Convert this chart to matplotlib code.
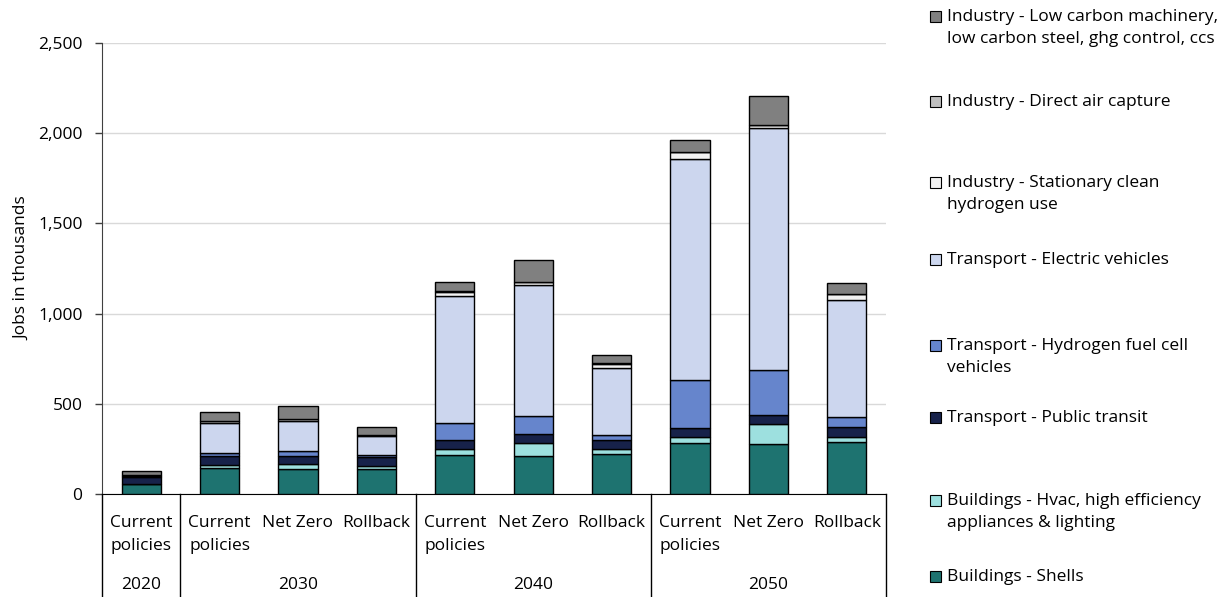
import numpy as np
import matplotlib.pyplot as plt
from matplotlib.patches import Rectangle
from matplotlib.transforms import blended_transform_factory

plt.rcParams['font.family'] = ['Open Sans', 'DejaVu Sans']
FS = 12.5

# Escenarios (eje x) y grupos de años
scenarios = ['Current\npolicies', 'Current\npolicies', 'Net Zero', 'Rollback',
             'Current\npolicies', 'Net Zero', 'Rollback',
             'Current\npolicies', 'Net Zero', 'Rollback']
years = ['2020', '2030', '2040', '2050']
year_span = [(0, 0), (1, 3), (4, 6), (7, 9)]

# Series (miles de empleos), de abajo hacia arriba
shells = [55, 142, 139, 139, 216, 212, 220, 281, 279, 286]
hvac = [3, 19, 25, 18, 32, 71, 28, 37, 107, 32]
transit = [38, 50, 46, 46, 50, 48, 51, 50, 50, 55]
h2_fcv = [2, 18, 27, 15, 96, 101, 28, 262, 253, 52]
ev = [6, 163, 168, 105, 703, 725, 370, 1229, 1338, 650]
stat_h2 = [2, 11, 11, 6, 24, 16, 25, 35, 17, 32]
dac = [0, 0, 0, 0, 2, 2, 2, 2, 2, 2]
ind_lcm = [20, 52, 71, 41, 52, 124, 48, 64, 158, 61]

series = [shells, hvac, transit, h2_fcv, ev, stat_h2, dac, ind_lcm]
names = ['Buildings - Shells',
         'Buildings - Hvac, high efficiency\nappliances & lighting',
         'Transport - Public transit',
         'Transport - Hydrogen fuel cell\nvehicles',
         'Transport - Electric vehicles',
         'Industry - Stationary clean\nhydrogen use',
         'Industry - Direct air capture',
         'Industry - Low carbon machinery,\nlow carbon steel, ghg control, ccs']
colors = ['#1E7370', '#9DE0DF', '#17224A', '#6685CC', '#CCD6EE',
          '#F2F2F2', '#BFBFBF', '#808080']

fig = plt.figure(figsize=(12.32, 5.97), dpi=100)
ax = fig.add_axes([102/1232, 1-494/597, 784/1232, 451/597])

x = np.arange(len(scenarios))
bottom = np.zeros(len(x))
for vals, col in zip(series, colors):
    ax.bar(x, vals, 0.5, bottom=bottom, color=col, edgecolor='black',
           linewidth=1.0, zorder=3)
    bottom += np.array(vals)

ax.set_xlim(-0.5, 9.5)
ax.set_ylim(0, 2500)
ax.set_yticks(np.arange(0, 2501, 500))
ax.set_yticklabels([f'{v:,}' for v in range(0, 2501, 500)], fontsize=FS)
ax.yaxis.grid(True, color='#D9D9D9', linewidth=1.0, zorder=0)
ax.tick_params(axis='y', length=5, width=1, color='#404040', pad=9)
ax.set_xticks([])
for s in ['top', 'right']:
    ax.spines[s].set_visible(False)
ax.spines['left'].set_color('#404040')
ax.spines['bottom'].set_color('black')
ax.set_ylabel('Jobs in thousands', fontsize=FS)
ax.yaxis.set_label_coords(-0.092, 0.5)

# Etiquetas de categorías en dos niveles
tr = blended_transform_factory(ax.transData, ax.transAxes)
for i, lab in enumerate(scenarios):
    ax.text(x[i], -0.046, lab, transform=tr, ha='center', va='top',
            fontsize=FS, linespacing=1.6)
for yr, (a, b) in zip(years, year_span):
    ax.text((x[a] + x[b]) / 2, -0.202, yr, transform=tr, ha='center',
            va='center', fontsize=FS)
for sep in [-0.5, 0.5, 3.5, 6.5, 9.5]:
    ax.plot([sep, sep], [0, -0.25], transform=tr, color='black',
            linewidth=1.0, clip_on=False)

# Leyenda a mano (como en Excel)
leg_y = [16, 101, 182, 259, 345, 417, 500, 576]
for k, yy in enumerate(leg_y):
    idx = len(series) - 1 - k
    fig.patches.append(Rectangle((930/1232, 1-(yy+6)/597), 11/1232, 11/597,
                                 transform=fig.transFigure, facecolor=colors[idx],
                                 edgecolor='black', linewidth=0.8))
    fig.text(947/1232, 1-(yy-7)/597, names[idx], ha='left', va='top',
             fontsize=FS, linespacing=1.5)

fig.savefig('out.png', dpi=100)
